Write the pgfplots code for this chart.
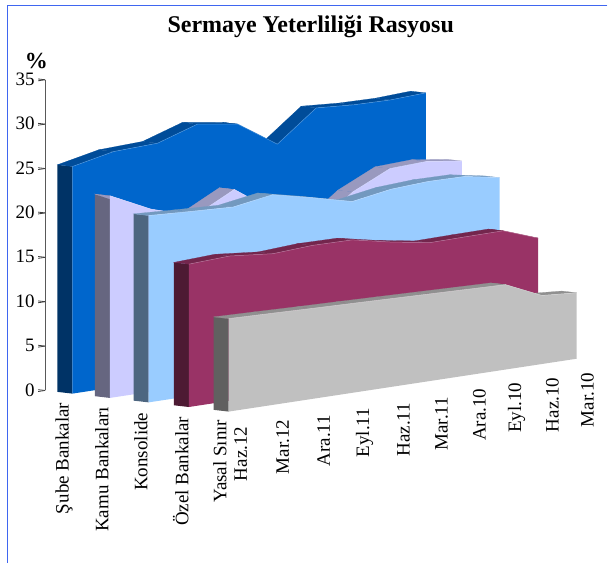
\documentclass[border=0pt]{standalone}
\usepackage{pgfplots}
\pgfplotsset{compat=1.18}
\usepackage{fontspec}
\setmainfont{Liberation Serif}
\definecolor{subeF}{HTML}{0066CC}\definecolor{subeT}{HTML}{004C99}\definecolor{subeS}{HTML}{003366}
\definecolor{kamuF}{HTML}{CCCCFF}\definecolor{kamuT}{HTML}{9999BF}\definecolor{kamuS}{HTML}{666680}
\definecolor{konsF}{HTML}{99CCFF}\definecolor{konsT}{HTML}{7399BF}\definecolor{konsS}{HTML}{4D6680}
\definecolor{ozelF}{HTML}{993366}\definecolor{ozelT}{HTML}{73264D}\definecolor{ozelS}{HTML}{4D1A33}
\definecolor{yasaF}{HTML}{C0C0C0}\definecolor{yasaT}{HTML}{909090}\definecolor{yasaS}{HTML}{606060}
\definecolor{frameblue}{HTML}{3F66F0}
% position along the category axis / value, Haz.12 ... Mar.10
\def\subeV{0/25.58,1.05/26.56,2.17/26.75,3.18/28.21,4.21/27.53,5.22/24.59,6.21/28.01,7.16/27.72,8.10/27.64,9/27.83}
\def\kamuV{0/22.77,1.05/20.56,2.17/19.05,3.18/21.35,4.21/18.2,5.22/15.7,6.21/19.05,7.16/21.04,8.10/21.22,9/20.66}
\def\konsV{0/21.04,1.05/20.79,2.17/20.56,3.18/21.27,4.21/20.24,5.22/19.14,6.21/19.86,7.16/20.1,8.10/20.04,9/19.31}
\def\ozelV{0/16.09,1.05/16.31,2.17/15.83,3.18/16.09,4.21/16.03,5.22/15.11,6.21/14.39,7.16/14.44,8.10/14.47,9/13.05}
\def\yasaV{0/10.47,1.05/10.34,2.17/10.19,3.18/10.07,4.21/9.94,5.22/9.81,6.21/9.68,7.16/9.56,8.10/7.72,9/7.43}
% #1 depth position, #2 category stretch, #3 values, #4 first value, #5 front, #6 top, #7 side
\newcommand{\ribbon}[7]{%
  \gdef\tF{}\gdef\tS{}\gdef\pX{}\gdef\pV{}%
  \pgfmathsetmacro\bk{#1-0.385}%
  \pgfmathsetmacro\xe{9*#2}%
  \foreach \u/\v in #3 {%
    \pgfmathsetmacro\xx{\u*#2}%
    \xdef\tF{\tF (\xx,#1,\v)}%
    \ifx\pX\empty\else
      \xdef\tS{\unexpanded\expandafter{\tS}\noexpand\addplot3[fill=#6,draw=#6,line width=0.2pt,mark=none,forget plot] coordinates {(\pX,#1,\pV) (\pX,\bk,\pV) (\xx,\bk,\v) (\xx,#1,\v)};}%
    \fi
    \xdef\pX{\xx}\xdef\pV{\v}%
  }%
  \edef\doit{%
    \noexpand\addplot3[fill=#7,draw=none,mark=none,forget plot] coordinates {(0,#1,0) (0,#1,#4) (0,\bk,#4) (0,\bk,0)};
    \unexpanded\expandafter{\tS}
    \noexpand\addplot3[fill=#5,draw=none,mark=none,forget plot] coordinates {(0,#1,0) \tF\space(\xe,#1,0)};
    \noexpand\addplot3[draw=#5!70!white,line width=0.5pt,mark=none,forget plot] coordinates {\tF};
  }\doit
}
\begin{document}
\begin{tikzpicture}
\begin{scope}[x=1pt,y=-1pt,shift={(-72.5pt,394pt)}]
  \path[use as bounding box] (0,0) rectangle (608,564);
\end{scope}
\begin{axis}[
  at={(0pt,0pt)},anchor=origin,
  x={(39.3pt,5.97pt)},y={(39.1pt,-4.5pt)},z={(0pt,8.886pt)},
  xmin=0,xmax=9,ymin=-0.7,ymax=4,zmin=0,zmax=35,
  axis lines=left,
  x axis line style={draw=none},y axis line style={draw=none},
  z axis line style={draw=black!65,line width=1pt,-},
  xtick=\empty,ytick=\empty,
  ztick={0,5,...,35},
  tick style={draw=black!75,line width=0.8pt},
  major tick length=7pt,
  tick align=outside,
  ticklabel style={font=\fontsize{19}{19}\selectfont},
  /pgf/number format/assume math mode=true,
  clip=false,
]
\ribbon{0}{1}{\subeV}{25.58}{subeF}{subeT}{subeS}
\ribbon{0.96}{0.9963}{\kamuV}{22.77}{kamuF}{kamuT}{kamuS}
\ribbon{1.95}{0.9935}{\konsV}{21.04}{konsF}{konsT}{konsS}
\ribbon{2.98}{0.9887}{\ozelV}{16.09}{ozelF}{ozelT}{ozelS}
\ribbon{4}{0.985}{\yasaV}{10.47}{yasaF}{yasaT}{yasaS}
\end{axis}
\begin{scope}[x=1pt,y=-1pt,shift={(-72.5pt,394pt)}]
  \draw[frameblue,line width=1.2pt] (608,5.5) -- (7.5,5.5) -- (7.5,564);
  \node[font=\bfseries\fontsize{24}{28}\selectfont] at (311,27) {Sermaye Yeterliliği Rasyosu};
  \node[font=\bfseries\fontsize{23}{26}\selectfont] at (36.5,61) {\%};
  \foreach \px/\py/\t in {
    64/403/Şube Bankalar,102/407/Kamu Bankaları,141/413/Konsolide,181/417/Özel Bankalar,220/420/Yasal Sınır,
    241/427/Haz.12,283/420/Mar.12,324/415/Ara.11,365/408/Eyl.11,404/403/Haz.11,442/397/Mar.11,
    480/389/Ara.10,517/383/Eyl.10,553/378/Haz.10,588/373/Mar.10}
    \node[rotate=90,anchor=east,inner sep=0pt,font=\fontsize{19}{19}\selectfont] at (\px,\py) {\t};
\end{scope}
\end{tikzpicture}
\end{document}
